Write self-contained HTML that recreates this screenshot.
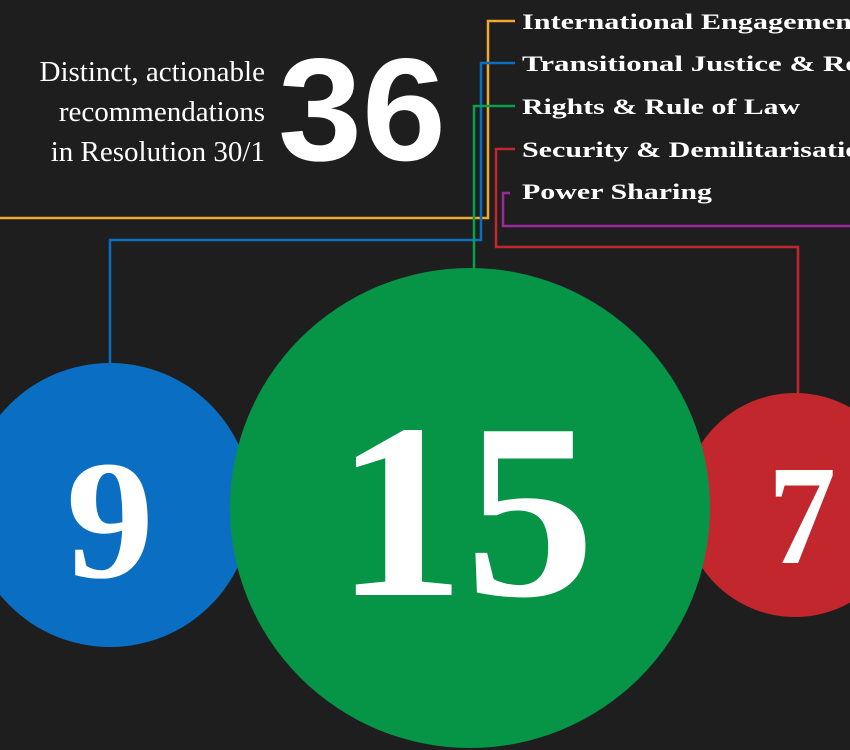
<!DOCTYPE html>
<html><head><style>
html,body{margin:0;padding:0;background:#1e1e1e;}
svg{display:block}
</style></head><body>
<svg width="850" height="750" viewBox="0 0 850 750" xmlns="http://www.w3.org/2000/svg">
<rect width="850" height="750" fill="#1e1e1e"/>
<g fill="none" stroke-width="2.5">
<polyline points="0,218 488,218 488,21 515,21" stroke="#f0a830"/>
<polyline points="110,370 110,240 481,240 481,63 515,63" stroke="#0a6fc2"/>
<polyline points="474,275 474,106 515,106" stroke="#08a04c"/>
<polyline points="798,400 798,247 496,247 496,149 515,149" stroke="#c1272d"/>
<polyline points="850,226 503,226 503,193 510,193" stroke="#9b2a9b"/>
</g>
<circle cx="110" cy="505" r="142" fill="#0a6fc2"/>
<circle cx="795" cy="505" r="112" fill="#c1272d"/>
<circle cx="470" cy="508" r="240" fill="#069447"/>
<g font-family="Liberation Serif, serif" font-weight="bold" fill="#fff">
<text x="335" y="595" font-size="250" textLength="260" lengthAdjust="spacingAndGlyphs">15</text>
<text x="66" y="577" font-size="170" textLength="88" lengthAdjust="spacingAndGlyphs">9</text>
<text x="768" y="563" font-size="142" textLength="68" lengthAdjust="spacingAndGlyphs">7</text>
<g font-size="22" lengthAdjust="spacingAndGlyphs">
<text x="522" y="29" textLength="340" lengthAdjust="spacingAndGlyphs">International Engagement</text>
<text x="522" y="71" textLength="490" lengthAdjust="spacingAndGlyphs">Transitional Justice &amp; Reconciliation</text>
<text x="522" y="114" textLength="278" lengthAdjust="spacingAndGlyphs">Rights &amp; Rule of Law</text>
<text x="522" y="157" textLength="355" lengthAdjust="spacingAndGlyphs">Security &amp; Demilitarisation</text>
<text x="522" y="199" textLength="190" lengthAdjust="spacingAndGlyphs">Power Sharing</text>
</g>
</g>
<text x="278" y="160" font-family="Liberation Sans, sans-serif" font-weight="bold" font-size="146" fill="#fff" textLength="168" lengthAdjust="spacingAndGlyphs">36</text>
<g font-family="Liberation Serif, serif" font-size="29" fill="#fff" text-anchor="end">
<text x="265" y="81">Distinct, actionable</text>
<text x="265" y="121">recommendations</text>
<text x="265" y="161">in Resolution 30/1</text>
</g>
</svg>
</body></html>
